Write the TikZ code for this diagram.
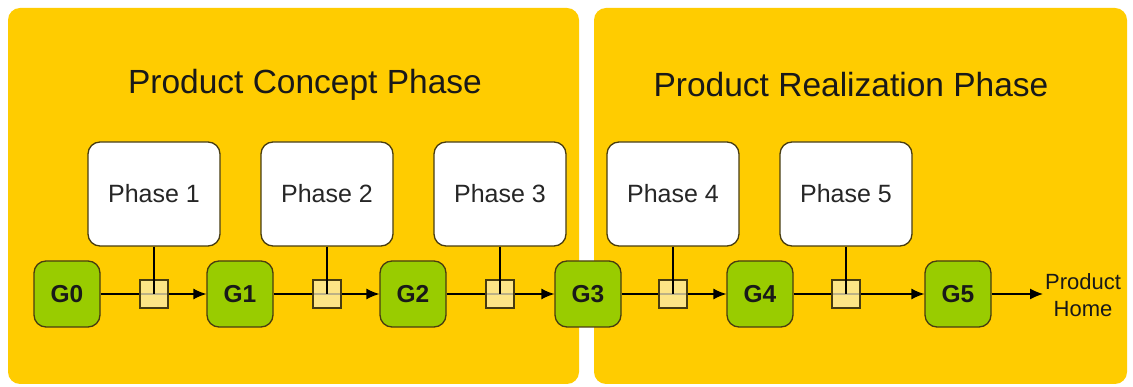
\documentclass[tikz,border=0pt]{standalone}
\usepackage{fontspec}
\setmainfont{Liberation Sans}
\usetikzlibrary{arrows.meta}
\definecolor{panelyellow}{RGB}{255,204,0}
\definecolor{gategreen}{RGB}{153,204,0}
\definecolor{edgedark}{RGB}{72,60,16}
\definecolor{sqfill}{RGB}{253,238,180}
\tikzset{
  panel/.style={fill=panelyellow, draw=none, rounded corners=12pt},
  phasebox/.style={draw=edgedark, line width=1.3pt, fill=white, rounded corners=12pt,
    minimum width=132pt, minimum height=104pt, inner sep=0pt,
    font=\fontsize{25pt}{30pt}\selectfont, text=black!85},
  gate/.style={draw=edgedark, line width=1.3pt, fill=gategreen, rounded corners=12pt,
    minimum width=66pt, minimum height=66pt, inner sep=0pt,
    font=\fontsize{24.5pt}{28pt}\selectfont\bfseries, text=black!90},
  sq/.style={draw=edgedark, line width=1.1pt, fill=sqfill, fill opacity=0.75,
    minimum width=28pt, minimum height=28pt, inner sep=0pt},
  conn/.style={draw=black, line width=1.3pt},
  arr/.style={conn, -{Latex[length=13pt,width=11pt]}},
  title/.style={font=\fontsize{33.5pt}{38pt}\selectfont, text=black!90},
}
\begin{document}
\begin{tikzpicture}[x=1pt,y=-1pt]
\useasboundingbox (0,0) rectangle (1133,387);
\fill[white] (0,0) rectangle (1133,387);
% panels
\path[panel] (8,8) rectangle (579,384);
\path[panel] (594,8) rectangle (1127,384);
\node[title] (t1) at (305,85) {Product Concept Phase};
\node[title] (t2) at (851,85) {Product Realization Phase};
% phase boxes
\node[phasebox] (p1) at (154,194) {Phase 1};
\node[phasebox] (p2) at (327,194) {Phase 2};
\node[phasebox] (p3) at (500,194) {Phase 3};
\node[phasebox] (p4) at (673,194) {Phase 4};
\node[phasebox] (p5) at (846,194) {Phase 5};
% gates
\node[gate] (g0) at (67,294) {G0};
\node[gate] (g1) at (240,294) {G1};
\node[gate] (g2) at (413,294) {G2};
\node[gate] (g3) at (588,294) {G3};
\node[gate] (g4) at (760,294) {G4};
\node[gate] (g5) at (958,294) {G5};
\coordinate (ph) at (1043,294);
\node[font=\fontsize{22pt}{27pt}\selectfont, align=center, text=black!90, inner sep=0pt] (home) at (1083,295) {Product\\Home};
% connectors
\draw[arr] (g0) -- (g1);
\draw[arr] (g1) -- (g2);
\draw[arr] (g2) -- (g3);
\draw[arr] (g3) -- (g4);
\draw[arr] (g4) -- (g5);
\draw[arr] (g5) -- (ph);
% squares
\node[sq] (s1) at (154,294) {};
\node[sq] (s2) at (327,294) {};
\node[sq] (s3) at (500,294) {};
\node[sq] (s4) at (673,294) {};
\node[sq] (s5) at (846,294) {};
\draw[conn, line width=1.1pt] (p1.south) -- (s1.center);
\draw[conn, line width=1.1pt] (p2.south) -- (s2.center);
\draw[conn, line width=1.1pt] (p3.south) -- (s3.center);
\draw[conn, line width=1.1pt] (p4.south) -- (s4.center);
\draw[conn, line width=1.1pt] (p5.south) -- (s5.center);
\end{tikzpicture}
\end{document}
